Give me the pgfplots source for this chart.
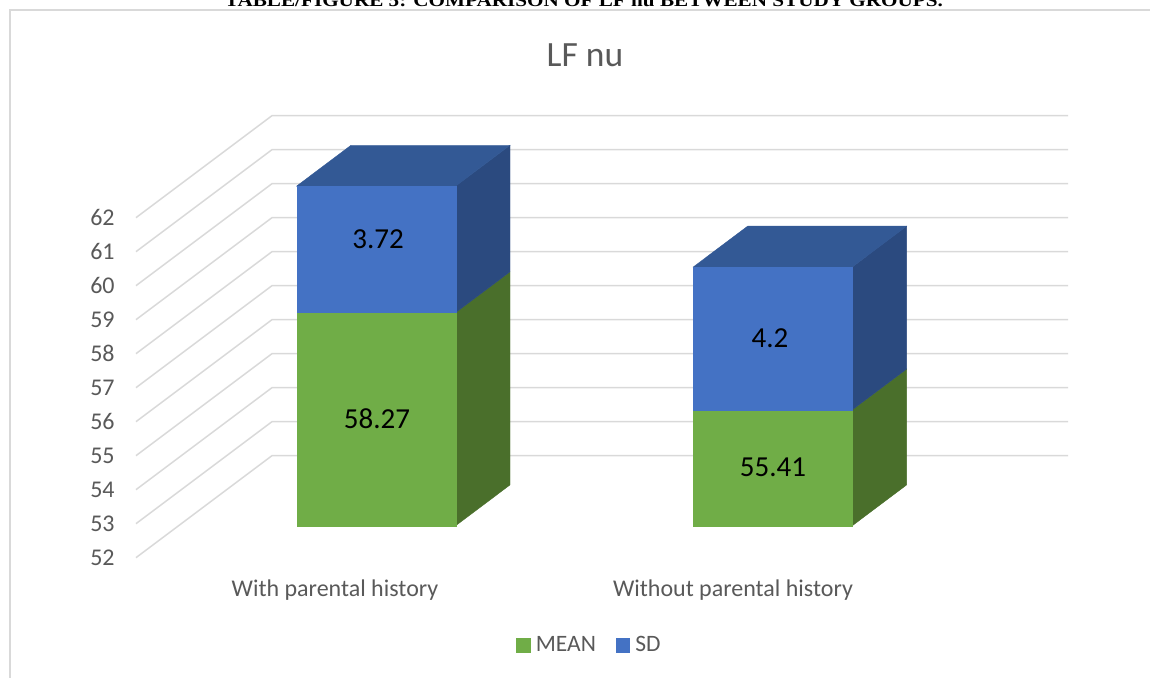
\documentclass[border=0pt]{standalone}
\usepackage{pgfplots}
\pgfplotsset{compat=1.18}
\usepackage{fontspec}
\setmainfont{Carlito}
\newfontfamily\capfont{Liberation Serif}

\definecolor{meanfront}{HTML}{70AD47}
\definecolor{meanside}{HTML}{4A6F2B}
\definecolor{sdfront}{HTML}{4472C4}
\definecolor{sdtop}{HTML}{335995}
\definecolor{sdside}{HTML}{2B4A7F}
\definecolor{gridc}{HTML}{D9D9D9}
\definecolor{axtext}{HTML}{595959}

% LF nu: mean and SD per group
\def\MeanA{58.27} \def\SDA{3.72}
\def\MeanB{55.41} \def\SDB{4.2}
\def\Base{52}

% oblique projection: x in horizontal units, y in value units
\def\dX{54.3}  \def\dY{1.2}    % depth of a bar
\def\wallF{0.94} \def\wallB{2.06} % wall front / back relative to bar plane

\pgfmathsetmacro\TopA{\MeanA+\SDA}
\pgfmathsetmacro\TopB{\MeanB+\SDB}
\pgfmathsetmacro\midMA{(\Base+\MeanA)/2}
\pgfmathsetmacro\midSA{(\MeanA+\TopA)/2+0.3}
\pgfmathsetmacro\midMB{(\Base+\MeanB)/2}
\pgfmathsetmacro\midSB{(\MeanB+\TopB)/2}

% one stacked 3-D bar: left x, right x, mean, top
\newcommand\drawbar[4]{%
  \pgfmathsetmacro\xr{#2+\dX}%
  \pgfmathsetmacro\xl{#1+\dX}%
  \pgfmathsetmacro\bb{\Base+\dY}%
  \pgfmathsetmacro\mb{#3+\dY}%
  \pgfmathsetmacro\tb{#4+\dY}%
  \edef\next{%
    \noexpand\addplot[fill=meanside,draw=meanside,line width=0.2pt,forget plot]
      coordinates {(#2,\Base) (\xr,\bb) (\xr,\mb) (#2,#3)} -- cycle;
    \noexpand\addplot[fill=sdside,draw=sdside,line width=0.2pt,forget plot]
      coordinates {(#2,#3) (\xr,\mb) (\xr,\tb) (#2,#4)} -- cycle;
    \noexpand\addplot[fill=sdtop,draw=sdtop,line width=0.2pt,forget plot]
      coordinates {(#1,#4) (#2,#4) (\xr,\tb) (\xl,\tb)} -- cycle;
    \noexpand\addplot[fill=meanfront,draw=meanfront,line width=0.2pt,forget plot]
      coordinates {(#1,\Base) (#2,\Base) (#2,#3) (#1,#3)} -- cycle;
    \noexpand\addplot[fill=sdfront,draw=sdfront,line width=0.2pt,forget plot]
      coordinates {(#1,#3) (#2,#3) (#2,#4) (#1,#4)} -- cycle;
  }\next}

\begin{document}
\begin{tikzpicture}
\begin{axis}[
  scale only axis,
  width=575pt, height=338.5pt,
  xmin=0, xmax=1150,
  ymin=47.55, ymax=67.462,
  hide axis,
  clip=false,
  legend columns=2,
  legend style={draw=none, fill=none, at={(0.5135,0.0465)}, anchor=center,
    font=\fontsize{11.75pt}{14pt}\selectfont\color{axtext},
    /tikz/every odd column/.append style={column sep=0.5pt},
    /tikz/every even column/.append style={column sep=8pt},
    inner sep=0pt},
  legend image code/.code={\fill[#1] (0pt,-3.6pt) rectangle (7.2pt,3.6pt);},
]
% chart area frame
\draw[gridc, line width=1pt] (axis cs:10,40) -- (axis cs:10,67.168) -- (axis cs:1200,67.168);

% gridlines on side and back walls, with value labels
\pgfplotsinvokeforeach{52,...,62}{
  \pgfmathsetmacro\yf{#1-\wallF}
  \pgfmathsetmacro\yb{#1+\wallB}
  \edef\next{%
    \noexpand\addplot[gridc, line width=0.75pt, forget plot]
      coordinates {(136,\yf) (272,\yb) (1068,\yb)};
    \noexpand\node[anchor=east, inner sep=0pt, text=axtext,
      font=\noexpand\fontsize{12pt}{14pt}\noexpand\selectfont] at (axis cs:115,\yf) {#1};
  }\next
}

\drawbar{296.7}{455.7}{\MeanA}{\TopA}
\drawbar{693.3}{852.3}{\MeanB}{\TopB}

\addlegendimage{fill=meanfront, draw=none}
\addlegendentry{MEAN}
\addlegendimage{fill=sdfront, draw=none}
\addlegendentry{SD}

% data labels
\begin{scope}[every node/.style={font=\fontsize{14.5pt}{17pt}\selectfont, text=black, inner sep=0pt}]
\node at (axis cs:377,\midMA) {\MeanA};
\node at (axis cs:378,\midSA) {\SDA};
\node at (axis cs:773,\midMB) {\MeanB};
\node at (axis cs:770,\midSB) {\SDB};
\end{scope}

% category labels
\node[anchor=base, text=axtext, inner sep=0pt, font=\fontsize{12pt}{14pt}\selectfont]
  at (axis cs:335,49.932) {With parental history};
\node[anchor=base, text=axtext, inner sep=0pt, font=\fontsize{12pt}{14pt}\selectfont]
  at (axis cs:733,49.932) {Without parental history};

% chart title
\node[anchor=base, text=axtext, inner sep=0pt, font=\fontsize{17.75pt}{20pt}\selectfont]
  at (axis cs:585,65.52) {LF nu};

% figure caption above the chart
\node[anchor=base, inner sep=0pt, font=\capfont\bfseries\fontsize{9pt}{10pt}\selectfont]
  at (axis cs:584,67.285) {\resizebox{359pt}{\height}{TABLE/FIGURE 5: COMPARISON OF LF nu BETWEEN STUDY GROUPS.}};
\end{axis}
\pgfresetboundingbox
\path[use as bounding box] (current axis.south west) rectangle (current axis.north east);
\end{tikzpicture}
\end{document}
